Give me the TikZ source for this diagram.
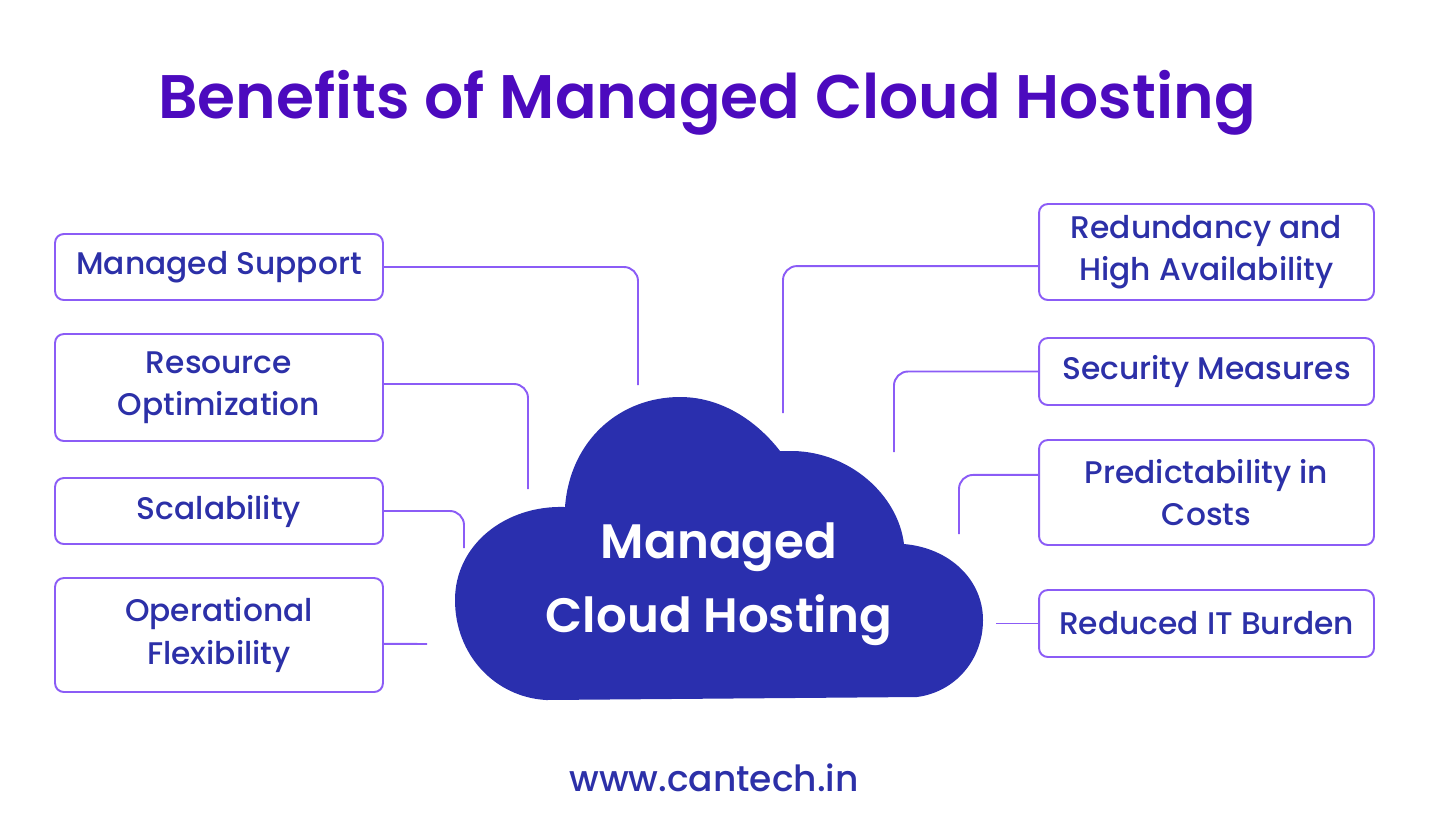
\documentclass[tikz,border=0pt]{standalone}
\usepackage{fontspec}
\setmainfont{Poppins}[BoldFont={Poppins SemiBold}]
\newfontfamily\medio{Poppins Medium}
\usepackage{tikz}
\usetikzlibrary{positioning,calc}
\definecolor{ctvioleta}{RGB}{76,10,190}
\definecolor{ctazul}{RGB}{44,48,168}
\definecolor{ctlinea}{RGB}{139,92,246}
\definecolor{ctnube}{RGB}{42,47,174}
\tikzset{
  caja/.style={rectangle,rounded corners=5pt,draw=ctlinea,line width=1.1pt,fill=white,
    align=center,inner sep=0pt,text=ctazul,font=\medio\fontsize{17.8}{24}\selectfont},
  cajai/.style={caja,minimum width=6.56cm},
  cajad/.style={caja,minimum width=6.7cm},
  enlace/.style={ctlinea,line width=1.1pt,rounded corners=8pt},
}

\begin{document}
\begin{tikzpicture}[x=0.02cm,y=-0.02cm]
      \useasboundingbox (0,0) rectangle (1430,826);
      \node[text=ctvioleta,font=\fontsize{35}{40}\selectfont\bfseries] (titulo) at (707,103)
        {Benefits of Managed Cloud Hosting};
      % nube central
      \fill[ctnube] (546,700) .. controls (495,697) and (455,655) .. (455,600)
        .. controls (455,545) and (505,505) .. (565,507)
        .. controls (570,440) and (620,397) .. (680,397)
        .. controls (725,397) and (760,425) .. (780,451) -- (793,451)
        .. controls (850,452) and (898,495) .. (904,544)
        .. controls (950,548) and (983,580) .. (983,620)
        .. controls (983,660) and (955,692) .. (917,697) -- cycle;
      \node[text=white,align=center,font=\fontsize{27.5}{42}\selectfont\bfseries] (nube) at (719,584)
        {Managed\\Cloud Hosting};
      % beneficios a la izquierda
      \node[cajai,minimum height=1.32cm] (ms) at (219,267) {Managed Support};
      \node[cajai,minimum height=2.14cm] (ro) at (219,387.5) {Resource\\Optimization};
      \node[cajai,minimum height=1.32cm] (sc) at (219,511) {Scalability};
      \node[cajai,minimum height=2.28cm] (of) at (219,635) {Operational\\Flexibility};
      % beneficios a la derecha
      \node[cajad,minimum height=1.92cm] (ha) at (1206.5,252) {Redundancy and\\High Availability};
      \node[cajad,minimum height=1.34cm] (sm) at (1206.5,371.5) {Security Measures};
      \node[cajad,minimum height=2.1cm] (pc) at (1206.5,492.5) {Predictability in\\Costs};
      \node[cajad,minimum height=1.34cm] (it) at (1206.5,623.5) {Reduced IT Burden};
      % extremos libres de los enlaces
      \coordinate (ms-f) at (638,385);
      \coordinate (ro-f) at (528,489);
      \coordinate (sc-f) at (464,548);
      \coordinate (of-f) at (427,644);
      \coordinate (ha-f) at (783,413);
      \coordinate (sm-f) at (894,452);
      \coordinate (pc-f) at (959,534);
      \coordinate (it-f) at (996,623.5);
      \draw[enlace] (ms.east) -| (ms-f);
      \draw[enlace] ([yshift=2pt]ro.east) -| (ro-f);
      \draw[enlace] (sc.east) -| (sc-f);
      \draw[enlace] ([yshift=-5pt]of.east) -- (of-f);
      \draw[enlace] ([yshift=-8pt]ha.west) -| (ha-f);
      \draw[enlace] (sm.west) -| (sm-f);
      \draw[enlace] ([yshift=10pt]pc.west) -| (pc-f);
      \draw[enlace] (it.west) -- (it-f);
      \node[text=ctazul,font=\medio\fontsize{20.5}{24}\selectfont] (web) at (714,778) {www.cantech.in};
    \end{tikzpicture}
\end{document}
